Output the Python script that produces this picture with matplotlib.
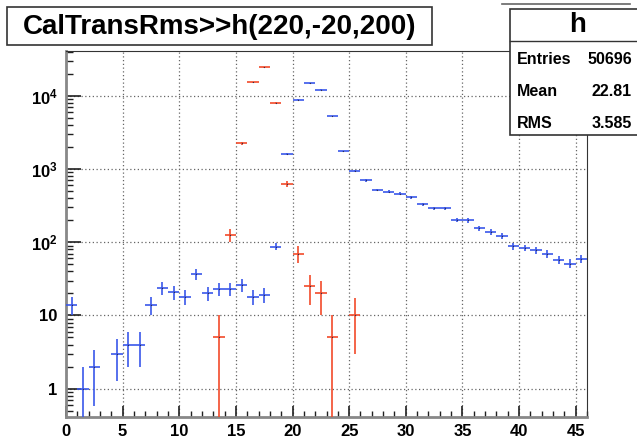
import numpy as np
import matplotlib
matplotlib.use('Agg')
import matplotlib.pyplot as plt
from matplotlib.patches import Rectangle
from matplotlib.lines import Line2D
from matplotlib.ticker import FixedLocator, MultipleLocator, FixedFormatter

plt.rcParams['font.family'] = ['Liberation Sans', 'DejaVu Sans']
plt.rcParams['mathtext.fontset'] = 'custom'
plt.rcParams['mathtext.rm'] = 'Liberation Sans:bold'
plt.rcParams['mathtext.bf'] = 'Liberation Sans:bold'

# bin centres (bin width 1) and contents
blue_x = [0.5, 1.5, 2.5, 4.5, 5.5, 6.5, 7.5, 8.5, 9.5, 10.5, 11.5, 12.5, 13.5,
          14.5, 15.5, 16.5, 17.5, 18.5, 19.5, 20.5, 21.5, 22.5, 23.5, 24.5,
          25.5, 26.5, 27.5, 28.5, 29.5, 30.5, 31.5, 32.5, 33.5, 34.5, 35.5,
          36.5, 37.5, 38.5, 39.5, 40.5, 41.5, 42.5, 43.5, 44.5, 45.5]
blue_y = [14, 1, 2, 3, 4, 4, 14, 24, 21, 18, 37, 20, 23,
          23, 26, 18, 19, 87, 1600, 8900, 14800, 12200, 5300, 1750,
          940, 700, 518, 490, 460, 410, 330, 290, 290, 202, 200,
          155, 139, 121, 89, 84, 78, 70, 58, 51, 59]

red_x = [13.5, 14.5, 15.5, 16.5, 17.5, 18.5, 19.5, 20.5, 21.5, 22.5, 23.5, 25.5]
red_y = [5, 125, 2270, 15400, 24400, 8050, 625, 70, 25, 20, 5, 10]
red_weight = 5

stats_labels = ['Entries', 'Mean', 'RMS']
stats_values = ['50696', '22.81', '3.585']

W, H = 637, 438
fig = plt.figure(figsize=(W / 100, H / 100), dpi=100)


def fx(px):
    return px / W


def fy(py):
    return 1 - py / H


ax = fig.add_axes([fx(66), fy(417), fx(587) - fx(66), fy(51) - fy(417)])
ax.set_yscale('log')


def draw(xs, ys, w, color):
    xs = np.array(xs, float)
    ys = np.array(ys, float)
    err = np.sqrt(ys * w)
    lo = np.minimum(err, ys - 1e-3)
    ax.errorbar(xs, ys, xerr=0.5, yerr=[lo, err], fmt='none', ecolor=color,
                elinewidth=1.2, capsize=0, zorder=3)
    ax.plot(xs, ys, ls='none', marker='s', ms=0.8, mew=0, color='#303050',
            zorder=4)


draw(blue_x, blue_y, 1, '#3a58ea')
draw(red_x, red_y, red_weight, '#f24a2a')

ax.set_xlim(0, 46)
ax.set_ylim(0.41, 41000)

ax.xaxis.set_major_locator(MultipleLocator(5))
ax.xaxis.set_minor_locator(MultipleLocator(1))
ax.yaxis.set_major_locator(FixedLocator([1, 10, 100, 1000, 1e4]))
ax.yaxis.set_major_formatter(FixedFormatter(
    ['1', '10', r'$\mathbf{10^{2}}$', r'$\mathbf{10^{3}}$', r'$\mathbf{10^{4}}$']))
minors = [m * 10.0 ** d for d in range(-1, 5) for m in range(2, 10)]
ax.yaxis.set_minor_locator(FixedLocator(minors))
ax.yaxis.set_minor_formatter(FixedFormatter([''] * len(minors)))

ax.tick_params(which='both', direction='in', top=False, right=False,
               labelsize=12, color='#202020')
ax.tick_params(axis='x', which='major', length=8, width=1.2, pad=5)
ax.tick_params(axis='x', which='minor', length=4, width=1.0)
ax.tick_params(axis='y', which='major', length=11, width=1.2, pad=6)
ax.tick_params(axis='y', which='minor', length=5, width=1.0)
for lab in ax.get_xticklabels() + ax.get_yticklabels():
    lab.set_fontweight('bold')

ax.grid(True, which='major', ls=(0, (1, 2)), color='#666666', lw=0.9)
ax.set_axisbelow(True)
for side in ['left', 'bottom']:
    ax.spines[side].set_color('#888888')
    ax.spines[side].set_linewidth(2)
ax.spines['top'].set_color('#333333')
ax.spines['right'].set_color('#333333')

# title box
fig.add_artist(Rectangle((fx(7), fy(45)), fx(432) - fx(7), fy(7) - fy(45),
                         transform=fig.transFigure, fill=True, fc='white',
                         ec='#333333', lw=1.2))
fig.text(fx(220), fy(27), 'CalTransRms>>h(220,-20,200)', ha='center',
         va='center', fontsize=20, fontweight='bold')

# stats box
fig.add_artist(Line2D([fx(502), fx(630)], [fy(4), fy(4)],
                      transform=fig.transFigure, color='#666666', lw=1.2))
fig.add_artist(Rectangle((fx(510), fy(135)), fx(640) - fx(510), fy(9) - fy(135),
                         transform=fig.transFigure, fc='white', ec='#333333',
                         lw=1.2, zorder=5))
fig.add_artist(Line2D([fx(510), fx(637)], [fy(41), fy(41)],
                      transform=fig.transFigure, color='#333333', lw=1.0,
                      zorder=6))
fig.text(fx(578), fy(25), 'h', ha='center', va='center', fontsize=20,
         fontweight='bold', zorder=7)
for i, (lab, val) in enumerate(zip(stats_labels, stats_values)):
    yy = fy(59 + i * 32.5)
    fig.text(fx(517), yy, lab, ha='left', va='center', fontsize=11.5,
             fontweight='bold', zorder=7)
    fig.text(fx(632), yy, val, ha='right', va='center', fontsize=11.5,
             fontweight='bold', zorder=7)

fig.savefig('out.png', dpi=100)
